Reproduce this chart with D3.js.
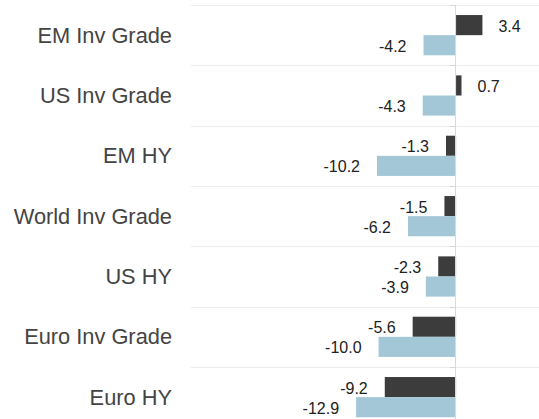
<!DOCTYPE html>
<html>
<head>
<meta charset="utf-8">
<script src="https://cdn.jsdelivr.net/npm/d3@7"></script>
<style>
  body { margin: 0; background: #fff; }
  svg { display: block; font-family: "Liberation Sans", Arial, sans-serif; }
</style>
</head>
<body>
<div id="bar-chart"></div>
<script>

// the data
const categories = ["EM Inv Grade", "US Inv Grade", "EM HY", "World Inv Grade", "US HY", "Euro Inv Grade", "Euro HY"];
const seriesNames = ["dark", "light"];
const darkValues = [3.4, 0.7, -1.3, -1.5, -2.3, -5.6, -9.2];
const lightValues = [-4.2, -4.3, -10.2, -6.2, -3.9, -10.0, -12.9];

const width = 539;
const height = 419;
const margin = {left: 191, right: 0, top: 5, bottom: 0};
const rowHeight = 60.33;
const colors = {dark: "#3c3c3c", light: "#a4c7d8"};

const svg = d3.select("#bar-chart")
  .append("svg")
  .attr("width", width)
  .attr("height", height)
  .attr("viewBox", [0, 0, width, height]);

// build rows out of the arrays
const rows = categories.map((c, i) => ({
  name: c,
  values: [{key: "dark", v: darkValues[i]}, {key: "light", v: lightValues[i]}]
}));

// value axis, zero sits at about x=456
const xScale = d3.scaleLinear()
  .domain([-34.2, 10.7])
  .range([margin.left, width - margin.right]);

const yScale = d3.scaleBand()
  .domain(categories)
  .range([margin.top, margin.top + rowHeight * categories.length])
  .padding(0);

// two bars inside each row, with a sixth of the row left empty above and below
const ySub = d3.scaleBand()
  .domain(seriesNames)
  .range([yScale.bandwidth() / 6, yScale.bandwidth() * 5 / 6])
  .padding(0);

const x0 = xScale(0);

// horizontal grid lines on the row edges
svg.append("g")
  .selectAll("line")
  .data(categories)
  .enter()
  .append("line")
    .attr("x1", margin.left)
    .attr("x2", width)
    .attr("y1", d => Math.round(yScale(d)) + 0.5)
    .attr("y2", d => Math.round(yScale(d)) + 0.5)
    .attr("stroke", "#ececec");

// small ticks left of the zero line
svg.append("g")
  .selectAll("line")
  .data(categories)
  .enter()
  .append("line")
    .attr("x1", x0 - 6)
    .attr("x2", x0)
    .attr("y1", d => Math.round(yScale(d)) + 0.5)
    .attr("y2", d => Math.round(yScale(d)) + 0.5)
    .attr("stroke", "#d6d6d6");

// category labels on the far left
svg.append("g")
  .selectAll("text")
  .data(categories)
  .enter()
  .append("text")
    .attr("x", 172)
    .attr("y", d => yScale(d) + yScale.bandwidth() / 2)
    .attr("dy", "0.35em")
    .attr("text-anchor", "end")
    .attr("font-size", "21.8px")
    .attr("fill", "#444")
    .text(d => d);

const groups = svg.selectAll(".row")
  .data(rows)
  .enter()
  .append("g")
    .attr("class", "row")
    .attr("transform", d => `translate(0,${yScale(d.name)})`);

groups.selectAll("rect")
  .data(d => d.values)
  .enter()
  .append("rect")
    .attr("x", d => xScale(Math.min(0, d.v)))
    .attr("y", d => ySub(d.key))
    .attr("width", d => Math.abs(xScale(d.v) - x0))
    .attr("height", ySub.bandwidth())
    .attr("fill", d => colors[d.key]);

// value labels next to the bar ends
groups.selectAll("text")
  .data(d => d.values)
  .enter()
  .append("text")
    .attr("x", d => d.v >= 0 ? xScale(d.v) + 16 : xScale(d.v) - 17)
    .attr("y", d => ySub(d.key) + ySub.bandwidth() / 2 + 1)
    .attr("dy", "0.35em")
    .attr("text-anchor", d => d.v >= 0 ? "start" : "end")
    .attr("font-size", "16px")
    .attr("fill", "#222")
    .text(d => d.v.toFixed(1));

// zero line drawn last so it sits on top of the bars
svg.append("line")
  .attr("x1", Math.round(x0) - 0.5)
  .attr("x2", Math.round(x0) - 0.5)
  .attr("y1", margin.top)
  .attr("y2", height)
  .attr("stroke", "#d9d9d9");

</script>
</body>
</html>
